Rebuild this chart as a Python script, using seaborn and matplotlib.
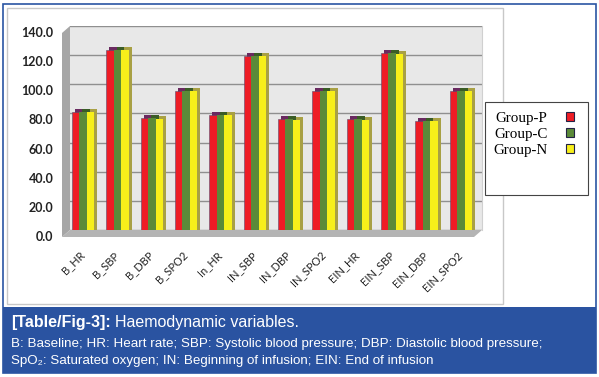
import numpy as np
import pandas as pd
import matplotlib
matplotlib.use('Agg')
import matplotlib.pyplot as plt
import seaborn as sns
from matplotlib.patches import Rectangle, Polygon
from matplotlib.transforms import ScaledTranslation

# data
variables = ['B_HR', 'B_SBP', 'B_DBP', 'B_SPO2', 'In_HR', 'IN_SBP', 'IN_DBP',
             'IN_SPO2', 'EIN_HR', 'EIN_SBP', 'EIN_DBP', 'EIN_SPO2']
groups = ['Group-P', 'Group-C', 'Group-N']
group_p = [85.4, 127.8, 81.0, 99.6, 83.2, 123.6, 80.2, 99.6, 80.2, 125.4, 79.1, 99.6]
group_c = [85.3, 127.7, 80.9, 99.5, 83.1, 123.5, 80.1, 99.5, 80.1, 125.3, 79.0, 99.5]
group_n = [85.0, 127.4, 80.6, 99.3, 82.8, 123.2, 79.8, 99.3, 79.8, 125.0, 78.7, 99.3]
yticks = [0, 20, 40, 60, 80, 100, 120, 140]

colors = ['#ee1c25', '#5b8a39', '#f7ef1a']
dark = ['#6a2a60', '#3a5c26', '#a8a044']

df = pd.DataFrame({'variable': variables * 3,
                   'group': sum([[g] * len(variables) for g in groups], []),
                   'value': group_p + group_c + group_n})

W, H = 599, 377
fig = plt.figure(figsize=(W / 100, H / 100), dpi=100)
fig.patch.set_facecolor('white')

def px(x, y):
    # pixel (top-left origin) -> figure fraction
    return x / W, 1 - y / H

# outer frame and inner chart box
fig.patches.append(Rectangle(px(3, 373), 593 / W, 369 / H, transform=fig.transFigure,
                             fill=False, edgecolor='#2a55a3', lw=1.2))
fig.patches.append(Rectangle(px(7, 304), 496 / W, 296 / H, transform=fig.transFigure,
                             fill=False, edgecolor='#c8c8c8', lw=1))
# caption band
fig.patches.append(Rectangle(px(3, 373), 593 / W, 66 / H, transform=fig.transFigure,
                             facecolor='#2a53a1', edgecolor='none'))

ax = fig.add_axes([70 / W, 1 - 230 / H, 412 / W, 204 / H])
ax.set_facecolor('#e8e8e8')

sns.barplot(data=df, x='variable', y='value', hue='group', palette=colors,
            saturation=1, width=0.66, gap=0, ax=ax, legend=False,
            edgecolor='none', zorder=3)

bars = list(ax.patches)
# 3D extrusion: back faces at data position, front faces shifted down-left
back_off = ScaledTranslation(-1 / 100, -3 / 100, fig.dpi_scale_trans)
front_off = ScaledTranslation(-4 / 100, -6 / 100, fig.dpi_scale_trans)
n = len(variables)
for i, b in enumerate(bars):
    gi = i // n
    back = Rectangle(b.get_xy(), b.get_width(), b.get_height(),
                     facecolor=dark[gi], edgecolor='none', zorder=2,
                     transform=ax.transData + back_off)
    ax.add_patch(back)
    b.set_transform(ax.transData + front_off)
    b.set_edgecolor('#5a4a70' if gi == 0 else 'none')
    b.set_linewidth(0.4)

ax.set_ylim(0, 140)
ax.set_xlim(-0.5, n - 0.5)
ax.set_yticks(yticks)
ax.set_yticklabels([f'{v:.1f}' for v in yticks])
ax.yaxis.grid(True, color='#8f8f8f', lw=1, zorder=1)
ax.xaxis.grid(False)
ax.set_axisbelow(True)
for s in ['top', 'right', 'bottom', 'left']:
    ax.spines[s].set_visible(False)
ax.set_xlabel('')
ax.set_ylabel('')

# side wall and floor
dxa, dya = 8 / 412, 7 / 204
ax.add_patch(Polygon([(0, 0), (0, 1), (-dxa, 1 - dya), (-dxa, -dya)],
                     transform=ax.transAxes, clip_on=False,
                     facecolor='#a6a6a6', edgecolor='none', zorder=0))
ax.add_patch(Polygon([(-dxa, -dya), (0, 0), (1, 0), (1 - dxa, -dya)],
                     transform=ax.transAxes, clip_on=False,
                     facecolor='#b4b4b4', edgecolor='none', zorder=0))
ax.plot([1, 1], [0, 1], transform=ax.transAxes, color='#d0d0d0', lw=0.8, clip_on=False)

ax.tick_params(axis='y', length=0, pad=12, labelsize=9)
ax.tick_params(axis='x', length=0, pad=8, labelsize=8)
for lab in ax.get_yticklabels():
    lab.set_fontweight('bold')
    lab.set_color('#222222')
    lab.set_family(['Lato', 'DejaVu Sans'])
    lab.set_transform(lab.get_transform() + ScaledTranslation(0, -6 / 100, fig.dpi_scale_trans))
for lab in ax.get_xticklabels():
    lab.set_rotation(45)
    lab.set_ha('right')
    lab.set_rotation_mode('anchor')
    lab.set_color('#222222')
    lab.set_family(['Lato', 'DejaVu Sans'])
    lab.set_transform(lab.get_transform() + ScaledTranslation(-8 / 100, -8 / 100, fig.dpi_scale_trans))

# legend
fig.patches.append(Rectangle(px(485, 195), 103 / W, 93 / H, transform=fig.transFigure,
                             facecolor='white', edgecolor='#444444', lw=0.8, zorder=5))
handles = [Rectangle((0, 0), 1, 1, facecolor=c, edgecolor='#222244', lw=0.8) for c in colors]
leg = fig.legend(handles, groups, loc='upper left', bbox_to_anchor=px(486, 104),
                 frameon=False, markerfirst=False, handlelength=0.55, handleheight=0.6,
                 handletextpad=1.2, labelspacing=0.2, borderpad=0,
                 prop={'family': ['Liberation Serif', 'DejaVu Serif'], 'size': 10.8})
leg.set_zorder(6)

# caption
cap_font = ['Liberation Sans', 'DejaVu Sans']
t1 = fig.text(*px(11, 323), '[Table/Fig-3]:', color='white', fontsize=11.5,
              fontweight='bold', va='center', family=cap_font)
fig.canvas.draw()
bb = t1.get_window_extent()
fig.text(bb.x1 / W + 4 / W, px(0, 323)[1], 'Haemodynamic variables.', color='white',
         fontsize=11.5, va='center', family=cap_font)
fig.text(*px(11, 344), 'B: Baseline; HR: Heart rate; SBP: Systolic blood pressure; '
         'DBP: Diastolic blood pressure;', color='white', fontsize=9.6, va='center',
         family=cap_font)
fig.text(*px(11, 361), 'SpO\u2082: Saturated oxygen; IN: Beginning of infusion; '
         'EIN: End of infusion', color='white', fontsize=9.6, va='center', family=cap_font)

fig.savefig('out.png', dpi=100)
